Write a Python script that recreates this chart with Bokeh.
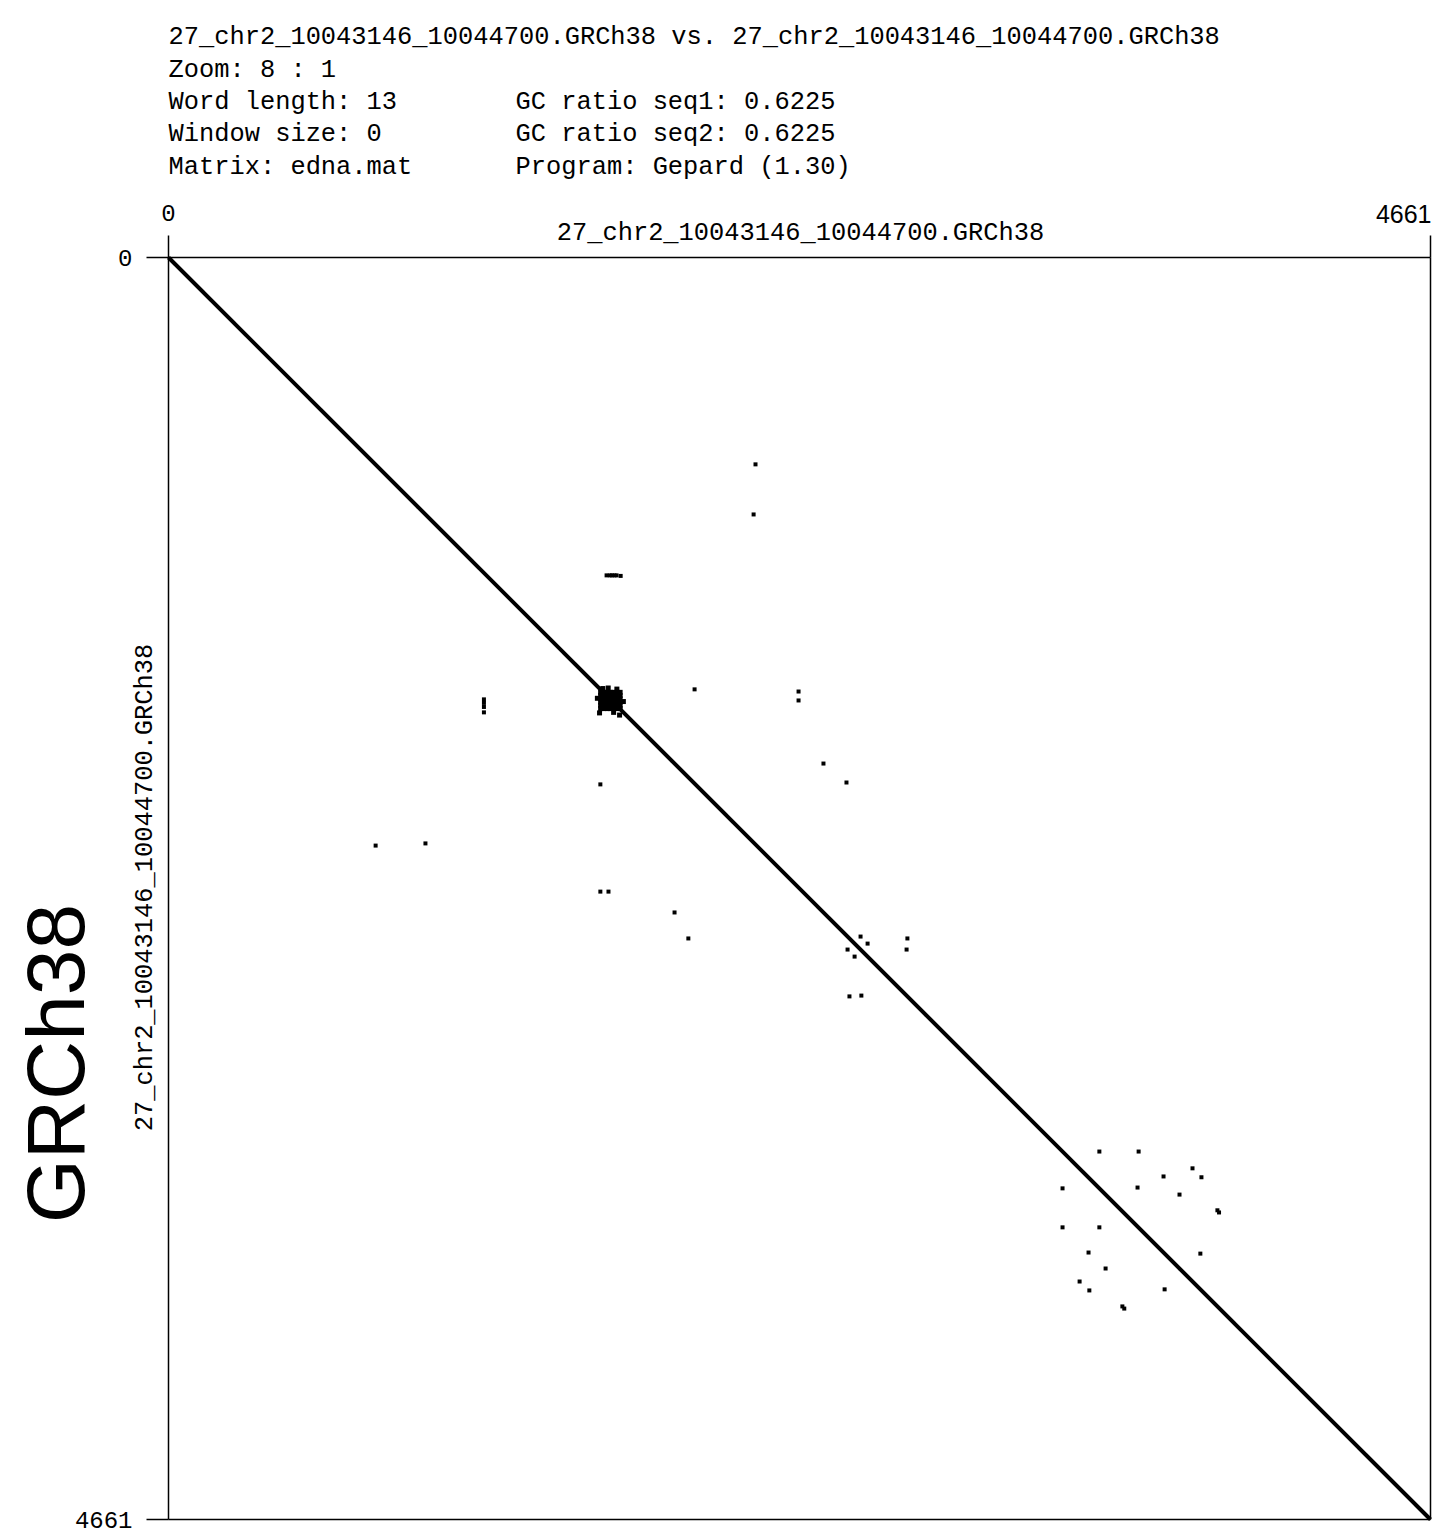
import math
from bokeh.plotting import figure
from bokeh.models import Range1d, FixedTicker, Label, LinearAxis
from bokeh.embed import file_html
from bokeh.resources import INLINE

# ---------------- data ----------------
seq_name = "27_chr2_10043146_10044700.GRCh38"
seq_len = 4661
axis_ticks = [0, 4661]
header_lines_left = [
    f"{seq_name} vs. {seq_name}",
    "Zoom: 8 : 1",
    "Word length: 13",
    "Window size: 0",
    "Matrix: edna.mat",
]
header_lines_right = [
    "GC ratio seq1: 0.6225",
    "GC ratio seq2: 0.6225",
    "Program: Gepard (1.30)",
]
side_title = "GRCh38"

# main diagonal (self-match)
diag_x = [0, 4661]
diag_y = [0, 4661]

# scattered word hits (x = position in seq1, y = position in seq2)
hit_x = [
    2168, 2161,
    1618, 1630, 1638, 1647, 1655, 1670,
    1943, 2327, 2327, 2419, 2504,
    2556, 2582, 2729, 2726,
    3438, 3583, 3782, 3815, 3675, 3579, 3734, 3874, 3880, 3811,
    765, 949,
    1165, 1165, 1165, 1165,
    1595, 1595, 1625, 1869, 1920,
    2508, 2534, 2515, 2559,
    3302, 3302, 3438, 3398, 3461, 3365, 3401, 3679, 3523, 3530,
]
hit_y = [
    764, 949,
    1174, 1174, 1174, 1174, 1174, 1176,
    1595, 1603, 1636, 1869, 1939,
    2508, 2534, 2515, 2556,
    3302, 3302, 3364, 3397, 3394, 3435, 3461, 3519, 3527, 3679,
    2172, 2164,
    1632, 1645, 1660, 1680,
    1946, 2342, 2342, 2419, 2515,
    2556, 2582, 2729, 2726,
    3438, 3582, 3582, 3675, 3734, 3782, 3815, 3811, 3874, 3882,
]

# dense repeat block near the diagonal
block_x = [
    1596, 1608, 1620, 1632, 1644, 1656, 1668,
    1596, 1608, 1620, 1632, 1644, 1656, 1668,
    1596, 1608, 1620, 1632, 1644, 1656, 1668,
    1596, 1608, 1620, 1632, 1644, 1656, 1668,
    1596, 1608, 1620, 1632, 1644, 1656, 1668,
    1596, 1608, 1620, 1632, 1644, 1656, 1668,
    1604, 1656, 1584, 1680, 1592, 1644, 1624, 1666,
]
block_y = [
    1606, 1606, 1606, 1606, 1606, 1606, 1606,
    1618, 1618, 1618, 1618, 1618, 1618, 1618,
    1630, 1630, 1630, 1630, 1630, 1630, 1630,
    1642, 1642, 1642, 1642, 1642, 1642, 1642,
    1654, 1654, 1654, 1654, 1654, 1654, 1654,
    1666, 1666, 1666, 1666, 1666, 1666, 1666,
    1592, 1594, 1628, 1640, 1682, 1680, 1590, 1690,
]

# ---------------- layout ----------------
W, H = 1436, 1537           # canvas size (frame covers the whole canvas)
BOX_LEFT, BOX_TOP, BOX_SIZE = 168, 257, 1262   # page pixels of the dot-plot box
MONO = "Liberation Mono"
SANS = "Liberation Sans"
FS = "25.4px"
upp = seq_len / BOX_SIZE     # data units per pixel


def X(px):
    return (px - BOX_LEFT) * upp


def Y(py):
    return (py - BOX_TOP) * upp


p = figure(
    frame_width=W, frame_height=H,
    x_range=Range1d(X(0), X(W)), y_range=Range1d(Y(H), Y(0)),
    x_axis_type=None, y_axis_type=None,
    output_backend="svg", toolbar_location=None,
    min_border=0,
)
p.grid.visible = False
p.outline_line_color = None
p.background_fill_color = "white"
p.border_fill_color = "white"


def make_axis(side, loc, ticks, labels=True, standoff=14):
    ax = LinearAxis(fixed_location=loc, bounds=(0, seq_len))
    ax.ticker = FixedTicker(ticks=ticks)
    ax.minor_tick_line_color = None
    ax.major_tick_in = 0
    ax.major_tick_out = 22
    ax.major_tick_line_color = "black"
    ax.major_tick_line_width = 1.5
    ax.axis_line_color = "black"
    ax.axis_line_width = 1.5
    ax.major_label_text_font = MONO
    ax.major_label_text_font_size = "24px" if labels else "0px"
    ax.major_label_text_color = "black"
    ax.major_label_standoff = standoff
    p.add_layout(ax, side)
    return ax


top_ax = make_axis("above", 0, axis_ticks, standoff=8)
top_ax.major_label_overrides = {seq_len: " "}
left_ax = make_axis("left", 0, axis_ticks, standoff=14)
make_axis("right", seq_len, [], labels=False)
make_axis("below", seq_len, [], labels=False)

# diagonal
p.line(diag_x, diag_y, line_color="black", line_width=4)

# hits
p.scatter(hit_x, hit_y, marker="square", size=4, fill_color="black", line_color=None)
p.scatter(block_x, block_y, marker="square", size=5, fill_color="black", line_color=None)


def add_label(text, x, y, font=MONO, size=FS, align="left", angle=0.0):
    p.add_layout(Label(
        x=x, y=y, text=text, text_font=font, text_font_size=size,
        text_align=align, text_baseline="middle", text_color="black",
        angle=angle,
    ))


# header
header_y = [37, 70, 102, 134, 167]
for i, t in enumerate(header_lines_left):
    add_label(t, X(168), Y(header_y[i]))
for i, t in enumerate(header_lines_right):
    add_label(t, X(515), Y(header_y[i + 2]))

# top axis end label and axis title
add_label(str(seq_len), X(1431), Y(213), font=SANS, size="25px", align="right")
add_label(seq_name, X(800), Y(233), align="center")

# left axis title (rotated)
add_label(seq_name, X(145), Y(887), align="center", angle=math.pi / 2)

# big side title
add_label(side_title, X(55), Y(1063), font=SANS, size="82px", align="center", angle=math.pi / 2)

open("out.html", "w").write(file_html(p, INLINE))
